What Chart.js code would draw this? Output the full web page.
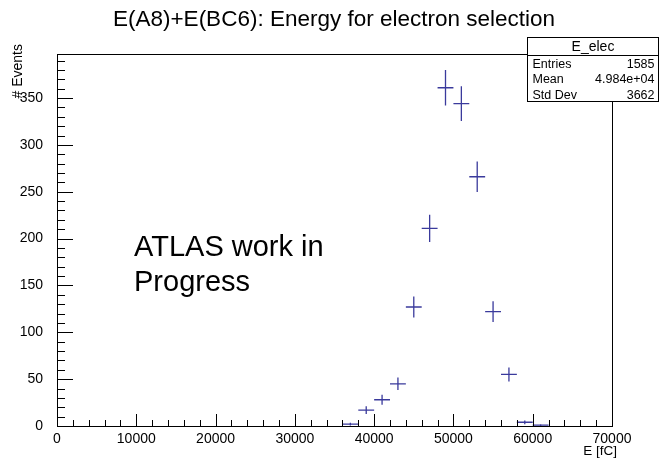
<html>
<head>
<script src="https://cdn.jsdelivr.net/npm/chart.js"></script>
<style>
  body { margin: 0; background: #fff; }
  #c { display: block; }
</style>
</head>
<body>
<canvas id="c" width="659" height="460"></canvas>
<script>
// histogram E_elec: bin centres (fC) and counts per 2000 fC bin
var binCenters = [37000, 39000, 41000, 43000, 45000, 47000, 49000, 51000, 53000, 55000, 57000, 59000, 61000];
var counts = [2, 17, 28, 45, 127, 211, 361, 344, 266, 122, 55, 4, 1];
var binWidth = 2000;

var xTicks = [0, 10000, 20000, 30000, 40000, 50000, 60000, 70000];
var yTicks = [0, 50, 100, 150, 200, 250, 300, 350];

var titleText = "E(A8)+E(BC6): Energy for electron selection";
var xTitle = "E [fC]";
var yTitle = "# Events";
var statsName = "E_elec";
var statsLabels = ["Entries", "Mean", "Std Dev"];
var statsValues = ["1585", "4.984e+04", "3662"];
var noteLines = ["ATLAS work in", "Progress"];

var FONT = "'Liberation Sans', Arial, Helvetica, sans-serif";
var MARK = "#3a3a9c";

var points = binCenters.map(function (x, i) { return { x: x, y: counts[i] }; });

// draws the ROOT style bits: error crosses, frame, inward ticks, texts
var rootStyle = {
    id: 'rootStyle',
    afterDatasetsDraw: function (chart) {
        var ctx = chart.ctx;
        var a = chart.chartArea;
        var xs = chart.scales.x, ys = chart.scales.y;

        ctx.save();
        // error bars
        ctx.strokeStyle = MARK;
        ctx.lineWidth = 1.3;
        points.forEach(function (p) {
            var px = xs.getPixelForValue(p.x);
            var py = ys.getPixelForValue(p.y);
            var err = Math.sqrt(p.y);
            ctx.beginPath();
            ctx.moveTo(xs.getPixelForValue(p.x - binWidth / 2), py);
            ctx.lineTo(xs.getPixelForValue(p.x + binWidth / 2), py);
            ctx.moveTo(px, ys.getPixelForValue(Math.max(0, p.y - err)));
            ctx.lineTo(px, ys.getPixelForValue(p.y + err));
            ctx.stroke();
        });

        // frame
        ctx.strokeStyle = '#000';
        ctx.lineWidth = 1;
        ctx.strokeRect(Math.round(a.left) + 0.5, Math.round(a.top) + 0.5,
            Math.round(a.right - a.left), Math.round(a.bottom - a.top));

        // x ticks (inside, from bottom)
        var xStep = (xTicks[1] - xTicks[0]) / 5;
        ctx.beginPath();
        for (var v = xs.min; v <= xs.max + 1; v += xStep) {
            var tx = Math.round(xs.getPixelForValue(v)) + 0.5;
            var len = (v % (xStep * 5) === 0) ? 12 : 6;
            ctx.moveTo(tx, a.bottom);
            ctx.lineTo(tx, a.bottom - len);
        }
        // y ticks (inside, from left)
        var yStep = (yTicks[1] - yTicks[0]) / 5;
        for (var w = ys.min; w <= ys.max; w += yStep) {
            var ty = Math.round(ys.getPixelForValue(w)) + 0.5;
            var ylen = (w % (yStep * 5) === 0) ? 16 : 8;
            ctx.moveTo(a.left, ty);
            ctx.lineTo(a.left + ylen, ty);
        }
        ctx.stroke();

        // title
        ctx.fillStyle = '#000';
        ctx.font = '22.5px ' + FONT;
        ctx.textAlign = 'center';
        ctx.textBaseline = 'middle';
        ctx.fillText(titleText, 334, 20);

        // axis titles
        ctx.font = '13.5px ' + FONT;
        ctx.textAlign = 'right';
        ctx.fillText(xTitle, 617, 451);
        ctx.save();
        ctx.translate(18, 44);
        ctx.rotate(-Math.PI / 2);
        ctx.font = '14px ' + FONT;
        ctx.textAlign = 'right';
        ctx.fillText(yTitle, 0, 0);
        ctx.restore();

        // annotation
        ctx.font = '29px ' + FONT;
        ctx.textAlign = 'left';
        ctx.textBaseline = 'alphabetic';
        ctx.fillText(noteLines[0], 134, 256);
        ctx.fillText(noteLines[1], 134, 291);

        // stats box
        var bx = 527.5, by = 37.5, bw = 131, bh = 64;
        ctx.fillStyle = '#fff';
        ctx.fillRect(bx, by, bw, bh);
        ctx.strokeStyle = '#000';
        ctx.strokeRect(bx, by, bw, bh);
        ctx.beginPath();
        ctx.moveTo(bx, by + 18);
        ctx.lineTo(bx + bw, by + 18);
        ctx.stroke();
        ctx.fillStyle = '#000';
        ctx.textBaseline = 'middle';
        ctx.textAlign = 'center';
        ctx.font = '14px ' + FONT;
        ctx.fillText(statsName, bx + bw / 2, by + 9.5);
        ctx.font = '12.5px ' + FONT;
        for (var i = 0; i < statsLabels.length; i++) {
            var ry = by + 27 + i * 15.5;
            ctx.textAlign = 'left';
            ctx.fillText(statsLabels[i], bx + 5, ry);
            ctx.textAlign = 'right';
            ctx.fillText(statsValues[i], bx + bw - 4, ry);
        }
        ctx.restore();
    }
};

var ctx = document.getElementById('c').getContext('2d');
var chart = new Chart(ctx, {
    type: 'scatter',
    data: {
        datasets: [{
            label: statsName,
            data: points,
            pointRadius: 0,
            showLine: false,
            borderColor: MARK
        }]
    },
    options: {
        responsive: false,
        animation: false,
        devicePixelRatio: 1,
        layout: { padding: { left: 0, right: 47, top: 54, bottom: 0 } },
        plugins: {
            legend: { display: false },
            tooltip: { enabled: false },
            title: { display: false }
        },
        scales: {
            x: {
                type: 'linear',
                min: 0,
                max: 70000,
                grid: { display: false },
                border: { display: false },
                afterBuildTicks: function (s) { s.ticks = xTicks.map(function (v) { return { value: v }; }); },
                afterFit: function (s) { s.height = 34; },
                ticks: {
                    padding: -3,
                    color: '#000',
                    maxRotation: 0,
                    autoSkip: false,
                    font: { family: FONT, size: 14 },
                    callback: function (v) { return String(v); }
                }
            },
            y: {
                type: 'linear',
                min: 0,
                max: 397,
                grid: { display: false },
                border: { display: false },
                afterBuildTicks: function (s) { s.ticks = yTicks.map(function (v) { return { value: v }; }); },
                afterFit: function (s) { s.width = 57; },
                ticks: {
                    padding: 6,
                    color: '#000',
                    autoSkip: false,
                    font: { family: FONT, size: 14 },
                    callback: function (v) { return String(v); }
                }
            }
        }
    },
    plugins: [rootStyle]
});
</script>
</body>
</html>
